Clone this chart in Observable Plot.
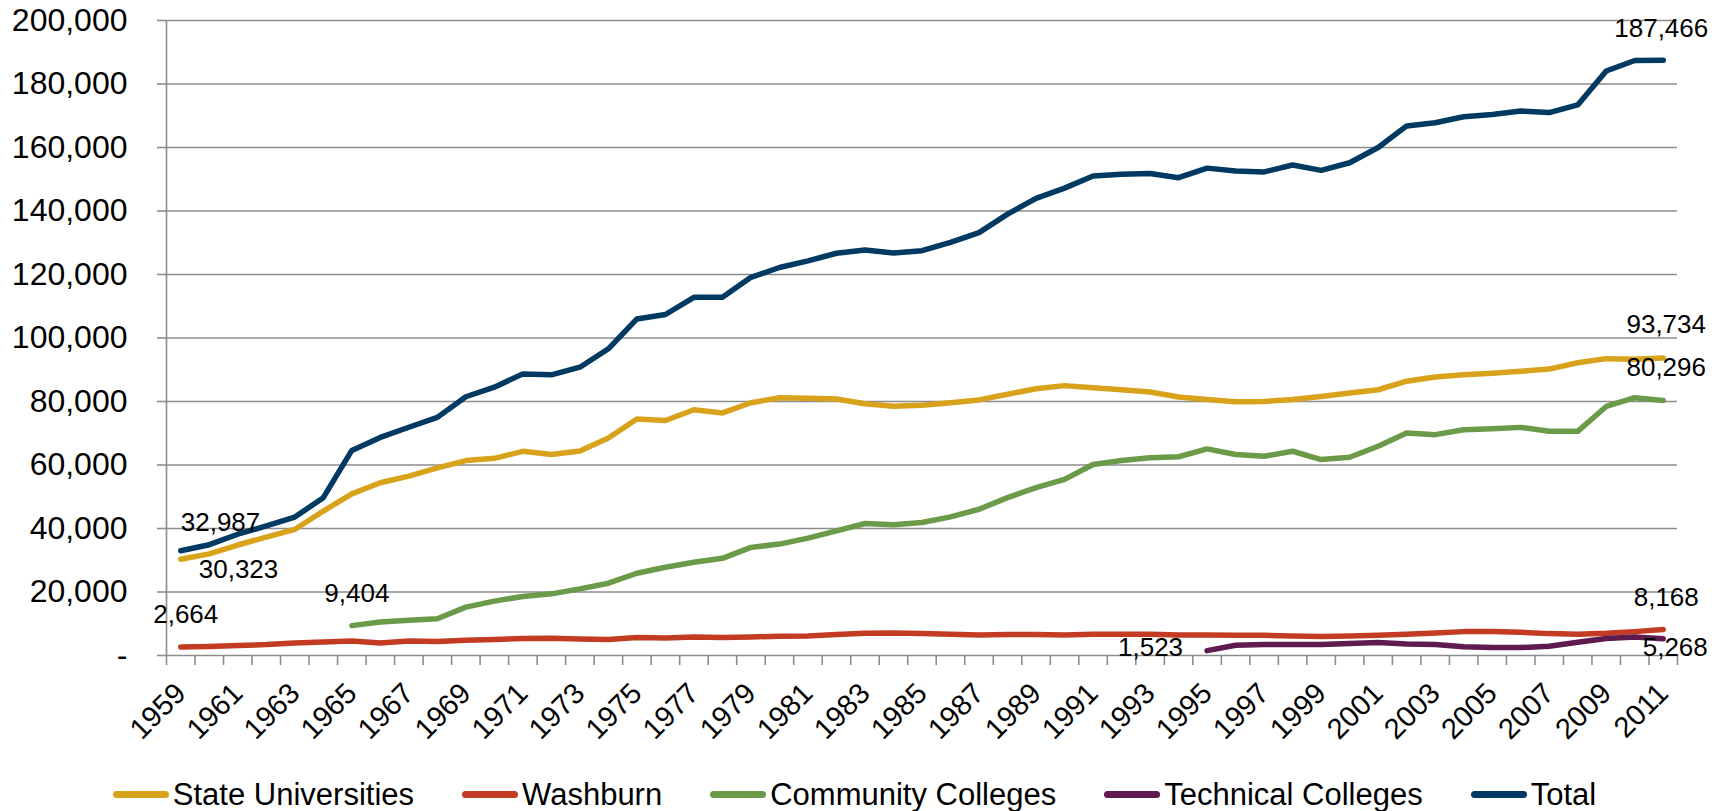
<!DOCTYPE html>
<html><head><meta charset="utf-8">
<script src="https://cdn.jsdelivr.net/npm/d3@7"></script>
<script src="https://cdn.jsdelivr.net/npm/@observablehq/plot@0.6"></script>
<style>
body{margin:0;background:#fff;font-family:"Liberation Sans",Arial,sans-serif;}
#chart svg{display:block}
#legend{display:flex;justify-content:center;align-items:center;gap:48px;font-size:31px;color:#000;height:38px;padding-right:16px;line-height:1}
.item{display:flex;align-items:center}
.sw{width:56px;height:7px;border-radius:3.5px;margin-right:4px}
</style></head><body><div id="chart"></div><div id="legend"></div>
<script>
const years = [1959,1960,1961,1962,1963,1964,1965,1966,1967,1968,1969,1970,1971,1972,1973,1974,1975,1976,1977,1978,1979,1980,1981,1982,1983,1984,1985,1986,1987,1988,1989,1990,1991,1992,1993,1994,1995,1996,1997,1998,1999,2000,2001,2002,2003,2004,2005,2006,2007,2008,2009,2010,2011];

const stateUniversities = [30323,32000,34800,37300,39700,45500,50900,54400,56500,59100,61400,62100,64300,63300,64400,68500,74500,74000,77400,76400,79600,81200,81000,80800,79300,78500,78800,79600,80500,82300,84000,85000,84300,83700,83000,81400,80600,79900,80000,80600,81600,82700,83700,86400,87700,88400,88900,89500,90200,92200,93500,93300,93734];

const washburn = [2664,2820,3130,3450,3970,4280,4600,3970,4600,4390,4800,5010,5330,5430,5200,5010,5640,5540,5850,5640,5850,6060,6160,6580,7000,7100,6890,6680,6480,6580,6580,6480,6680,6680,6680,6480,6480,6370,6370,6160,5950,6160,6370,6680,7100,7520,7520,7310,6890,6680,7000,7520,8168];

const communityColleges = [null,null,null,null,null,null,9404,10550,11070,11590,15250,17130,18590,19420,20990,22770,25900,27780,29350,30600,34050,35090,36970,39270,41570,41150,41880,43660,46060,49720,52850,55460,60160,61410,62300,62600,65070,63290,62770,64330,61720,62450,65900,70080,69560,71120,71440,71850,70600,70600,78430,81200,80296];

const technicalColleges = [null,null,null,null,null,null,null,null,null,null,null,null,null,null,null,null,null,null,null,null,null,null,null,null,null,null,null,null,null,null,null,null,null,null,null,null,1523,3240,3450,3450,3450,3760,4070,3660,3450,2720,2510,2510,2920,4180,5330,5850,5268];

const total = [32987,34900,38200,40800,43600,49700,64600,68700,71900,75000,81500,84500,88700,88400,90800,96600,106000,107400,112800,112800,119100,122200,124300,126700,127700,126800,127500,130100,133200,139000,144000,147200,151000,151600,151800,150500,153500,152600,152300,154500,152800,155200,160000,166800,167800,169700,170400,171500,171000,173400,184100,187400,187466];

const seriesNames = ["State Universities","Washburn","Community Colleges","Technical Colleges","Total"];
const seriesColors = ["#d9a21b","#c23b22","#6b9a49","#5f1a4f","#003a63"];
const yTicks = [0,20000,40000,60000,80000,100000,120000,140000,160000,180000,200000];
const xLabelYears = [1959,1961,1963,1965,1967,1969,1971,1973,1975,1977,1979,1981,1983,1985,1987,1989,1991,1993,1995,1997,1999,2001,2003,2005,2007,2009,2011];

const seriesValues = [stateUniversities, washburn, communityColleges, technicalColleges, total];
const rows = [];
seriesNames.forEach((name, k) => years.forEach((yr, i) => {
  const v = seriesValues[k][i];
  if (v != null) rows.push({series: name, year: yr, value: v});
}));

function endPoint(name, which) {
  const pts = rows.filter(r => r.series === name);
  return which === "first" ? pts[0] : pts[pts.length - 1];
}
const labelSpecs = [
  {series: "Total", which: "first", anchor: "start", dx: 0, dy: -28},
  {series: "State Universities", which: "first", anchor: "start", dx: 18, dy: 10},
  {series: "Washburn", which: "first", anchor: "middle", dx: 5, dy: -32},
  {series: "Community Colleges", which: "first", anchor: "middle", dx: 5, dy: -32},
  {series: "Technical Colleges", which: "first", anchor: "end", dx: -24, dy: -3},
  {series: "Total", which: "last", anchor: "middle", dx: -2, dy: -32},
  {series: "State Universities", which: "last", anchor: "middle", dx: 3, dy: -33},
  {series: "Community Colleges", which: "last", anchor: "middle", dx: 3, dy: -33},
  {series: "Washburn", which: "last", anchor: "middle", dx: 3, dy: -32},
  {series: "Technical Colleges", which: "last", anchor: "middle", dx: 12, dy: 9}
];
const fmt = d3.format(",");
const labelMarks = labelSpecs.map(s => Plot.text([endPoint(s.series, s.which)], {
  x: "year", y: "value", text: d => fmt(d.value),
  textAnchor: s.anchor, dx: s.dx, dy: s.dy, fontSize: 26, fill: "#000"
}));

const boundaries = years.map(y => y - 0.5).concat([years[years.length - 1] + 0.5]);
const gridColor = "#8c8c8c";

const chart = Plot.plot({
  width: 1725, height: 775,
  marginLeft: 166, marginRight: 48, marginTop: 20, marginBottom: 120,
  style: {fontFamily: '"Liberation Sans", Arial, sans-serif', color: "#000", background: "#fff"},
  x: {type: "linear", domain: [years[0] - 0.5, years[years.length - 1] + 0.5], label: null},
  y: {domain: [0, 200000], label: null},
  color: {domain: seriesNames, range: seriesColors},
  marks: [
    Plot.gridY(yTicks, {stroke: gridColor, strokeOpacity: 1, strokeWidth: 1.6}),
    Plot.axisY(yTicks, {label: null, tickSize: 9, tickPadding: 30, fontSize: 32, stroke: gridColor, strokeWidth: 1.6,
      tickFormat: d => d === 0 ? "-" : fmt(d)}),
    Plot.ruleX([years[0] - 0.5], {stroke: gridColor, strokeWidth: 1.6}),
    Plot.axisX(boundaries, {label: null, tickSize: 10, tickFormat: () => "", stroke: gridColor, strokeWidth: 1.6}),
    Plot.axisX(xLabelYears, {label: null, tickSize: 0, tickPadding: 33, tickRotate: -45, fontSize: 29, tickFormat: d => String(d)}),
    Plot.line(rows, {x: "year", y: "value", z: "series", stroke: "series", strokeWidth: 5.5,
      strokeLinecap: "round", strokeLinejoin: "round"}),
    ...labelMarks
  ]
});
document.getElementById("chart").appendChild(chart);

const legend = document.getElementById("legend");
seriesNames.forEach((name, k) => {
  const item = document.createElement("div");
  item.className = "item";
  const sw = document.createElement("span");
  sw.className = "sw";
  sw.style.background = seriesColors[k];
  const tx = document.createElement("span");
  tx.textContent = name;
  item.appendChild(sw); item.appendChild(tx);
  legend.appendChild(item);
});
</script></body></html>
